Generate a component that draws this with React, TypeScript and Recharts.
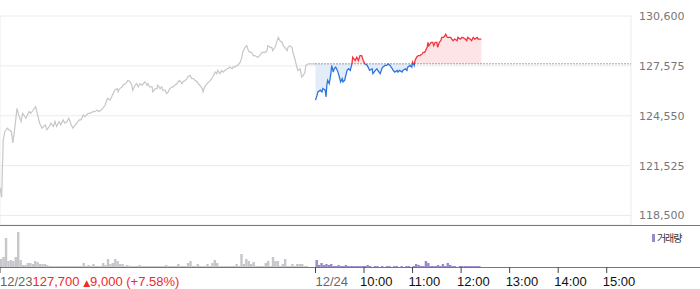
import { ComposedChart, Line, Area, Bar, Cell, XAxis, YAxis, CartesianGrid, ReferenceLine, Legend } from 'recharts';

// minutes since 12/23 09:00 (one session = 390 min), price in won
const day1Series: [number, number][] = [
  [0, 120200], [2, 119600], [4, 123100], [6, 123600], [9, 123800], [11, 123700], [14, 123600], [16, 122900],
  [19, 124100], [21, 125000], [23, 124600], [26, 124200], [28, 124700], [32, 124400], [36, 124800], [38, 124700],
  [41, 124900], [44, 125100], [47, 124500], [49, 124100], [52, 123800], [56, 124000], [58, 123700], [61, 123900],
  [63, 124100], [66, 123900], [68, 124200], [70, 123900], [73, 124200], [75, 124000], [78, 124300], [80, 124100],
  [83, 124200], [85, 124400], [88, 124000], [90, 123800], [93, 124000], [95, 124100], [98, 124300], [100, 124300],
  [103, 124600], [105, 124500], [109, 124700], [111, 124700], [115, 124800], [117, 124800], [120, 124900], [122, 124800],
  [125, 124900], [127, 125000], [130, 125200], [132, 125500], [133, 125600], [136, 125500], [138, 125700], [142, 126100],
  [145, 126200], [146, 126000], [148, 126200], [151, 126300], [152, 126400], [155, 126500], [157, 126600], [158, 126700],
  [161, 126600], [163, 126400], [164, 126100], [167, 126400], [169, 126500], [171, 126300], [173, 126500], [176, 126400],
  [177, 126500], [179, 126600], [182, 126400], [183, 126500], [185, 126300], [188, 126300], [189, 126000], [192, 126200],
  [194, 126200], [195, 126400], [198, 126200], [200, 126300], [201, 126100], [204, 126100], [206, 125900], [208, 126000],
  [210, 126200], [213, 126300], [214, 126300], [216, 126400], [219, 126500], [220, 126600], [222, 126700], [225, 126500],
  [226, 126600], [229, 126700], [231, 126800], [232, 126900], [235, 127000], [237, 126800], [239, 126800], [241, 126700],
  [244, 126600], [245, 126500], [247, 126400], [250, 126200], [251, 126000], [253, 126300], [256, 126500], [260, 126700],
  [263, 126900], [266, 127200], [268, 127100], [269, 127300], [272, 127100], [274, 127300], [276, 127200], [278, 127300],
  [281, 127400], [282, 127400], [284, 127500], [287, 127400], [288, 127500], [290, 127500], [293, 127600], [294, 127600],
  [297, 127800], [299, 128100], [300, 128400], [303, 128700], [305, 128800], [307, 128500], [309, 128400], [311, 128400],
  [313, 128200], [315, 128200], [318, 128100], [319, 128100], [321, 128200], [324, 128400], [325, 128400], [328, 128400],
  [330, 128500], [331, 128800], [334, 128700], [336, 128700], [337, 128500], [340, 128700], [342, 129000], [344, 129300],
  [346, 129100], [349, 129000], [350, 128800], [352, 128700], [355, 128500], [356, 128700], [358, 128800], [361, 128700],
  [362, 128400], [365, 127900], [367, 127500], [368, 127300], [371, 127400], [373, 126900], [375, 127000], [377, 127200],
  [378, 127600], [381, 127700], [390, 127700],
];

const day2Series: [number, number][] = [
  [390, 125500], [392, 125800], [393, 126000], [396, 126100], [398, 126000], [399, 126200], [402, 126100], [403, 125700],
  [404, 126400], [405, 126700], [407, 126500], [409, 127100], [410, 127600], [412, 127200], [413, 127400], [415, 127500],
  [417, 127300], [419, 127000], [421, 126600], [423, 126800], [424, 126600], [426, 126700], [428, 127100], [429, 127300],
  [431, 127400], [433, 127300], [434, 127500], [435, 127700], [436, 128100], [439, 127900], [441, 128100], [443, 127900],
  [445, 128200], [447, 128200], [449, 127900], [451, 127700], [454, 127600], [455, 127500], [457, 127300], [460, 127400],
  [461, 127100], [464, 127300], [466, 127400], [467, 127300], [470, 127100], [472, 127400], [473, 127500], [476, 127600],
  [478, 127600], [480, 127700], [482, 127600], [485, 127400], [486, 127300], [488, 127200], [491, 127300], [492, 127200],
  [494, 127300], [497, 127200], [498, 127300], [501, 127400], [503, 127300], [504, 127500], [507, 127600], [509, 127500],
  [510, 127800], [512, 127600], [513, 127900], [515, 128100], [517, 128200], [519, 128200], [522, 128300], [523, 128400],
  [525, 128400], [528, 128700], [529, 129000], [530, 128800], [533, 129000], [535, 129000], [536, 128800], [538, 129000],
  [540, 129000], [541, 128700], [543, 129000], [545, 129100], [546, 129300], [548, 129300], [550, 129400], [551, 129500],
  [553, 129300], [555, 129300], [557, 129300], [560, 129100], [562, 129200], [565, 129100], [566, 129300], [569, 129200],
  [571, 129300], [572, 129300], [575, 129200], [577, 129100], [578, 129300], [581, 129200], [583, 129100], [585, 129300],
  [587, 129200], [590, 129300], [591, 129200], [595, 129200],
];

// volume per 3-minute bucket (thousand shares)
const VOL_STEP = 3;
const day1Volume = [
  8, 10, 29, 6, 7, 6, 10, 35, 7, 2,
  2, 4, 4, 3, 6, 5, 3, 3, 3, 2,
  1, 1, 1, 1, 1, 1, 1, 1, 1, 1,
  1, 1, 1, 1, 4, 1, 2, 1, 3, 1,
  1, 1, 4, 2, 8, 3, 4, 8, 6, 3,
  3, 1, 2, 1, 1, 1, 1, 2, 1, 1,
  1, 1, 1, 1, 1, 1, 1, 1, 2, 1,
  1, 1, 1, 3, 1, 1, 1, 4, 6, 1,
  1, 3, 1, 1, 1, 3, 1, 4, 7, 4,
  1, 1, 1, 1, 1, 1, 1, 3, 1, 13,
  3, 8, 6, 3, 5, 1, 1, 1, 1, 4,
  6, 1, 10, 6, 6, 1, 3, 8, 1, 1,
  3, 1, 3, 3, 3, 1, 1, 0, 0, 0,
];
const day2Volume = [
  7, 2, 4, 2, 3, 2, 3, 1, 1, 2,
  1, 1, 2, 1, 1, 1, 1, 1, 1, 1,
  1, 2, 1, 0, 1, 1, 0, 1, 0, 1,
  1, 0, 1, 1, 0, 1, 0, 1, 1, 0,
  1, 3, 2, 1, 1, 6, 4, 1, 1, 1,
  2, 1, 3, 1, 4, 2, 1, 1, 0, 1,
  1, 1, 1, 1, 1, 1, 1, 1,
];

const SESSION = 390;
const PREV_CLOSE = 127700;
const CHANGE = 9000;
const CHANGE_PCT = 7.58;
const priceTicks = [118500, 121525, 124550, 127575, 130600];
const gridMinutes = [0, 60, 120, 180, 240, 300, 360, 390, 450, 510, 570, 630, 690, 750];
const axisMinutes = [0, 390, 450, 510, 570, 630, 690, 750];
const axisLabels = ['12/23', '12/24', '10:00', '11:00', '12:00', '13:00', '14:00', '15:00'];

const day1Data = day1Series.map(([m, p]) => ({ m, p }));
const day2Data = day2Series.map(([m, p]) => ({ m, p }));
const volumeData = [
  ...day1Volume.map((v, i) => ({ m: i * VOL_STEP + VOL_STEP / 2, v, day: 1 })),
  ...day2Volume.map((v, i) => ({ m: SESSION + i * VOL_STEP + VOL_STEP / 2, v, day: 2 })),
];

const day2Prices = day2Series.map(([, p]) => p);
const hi = Math.max(...day2Prices);
const lo = Math.min(...day2Prices);
const split = (hi - PREV_CLOSE) / (hi - lo);

const fmt = (n: number) => n.toLocaleString('en-US');

function TimeTick(props: any) {
  const { x, y, payload } = props;
  const idx = axisMinutes.indexOf(payload.value);
  const label = axisLabels[idx];
  const isDate = label.includes('/');
  if (idx === 0) {
    return (
      <text x={x} y={y} dy={11} fontSize={13} fontFamily="Liberation Sans, Arial" fill="#666" textAnchor="start">
        {label}
        <tspan fill="#ee2a2a">
          {fmt(PREV_CLOSE)} <tspan fontSize={9} fontFamily="DejaVu Sans">▲</tspan>
          {fmt(CHANGE)} (+{CHANGE_PCT.toFixed(2)}%)
        </tspan>
      </text>
    );
  }
  return (
    <text
      x={isDate ? x : x - 4}
      y={y}
      dy={11}
      fontSize={13}
      fontFamily="Liberation Sans, Arial"
      fill={isDate ? '#666' : '#111'}
      textAnchor="start"
    >
      {label}
    </text>
  );
}

function VolumeLegend() {
  return (
    <div style={{ display: 'flex', alignItems: 'center', fontFamily: 'Noto Sans CJK KR', fontSize: 10, color: '#333' }}>
      <span style={{ display: 'inline-block', width: 3, height: 8, background: '#9b88c9', marginRight: 2 }} />
      <span style={{ letterSpacing: -1.1, lineHeight: '10px' }}>거래량</span>
    </div>
  );
}

export default function App() {
  return (
    <div style={{ position: 'absolute', left: 0, top: 0, width: 700, height: 289, background: '#fff' }}>
      <div style={{ position: 'absolute', left: 0, top: 0 }}>
        <ComposedChart width={700} height={225} margin={{ top: 16, right: 0, left: 0, bottom: 0 }}>
          <defs>
            <linearGradient id="d2Stroke" x1="0" y1="0" x2="0" y2="1">
              <stop offset={split} stopColor="#f5323d" />
              <stop offset={split} stopColor="#2f74dc" />
            </linearGradient>
            <linearGradient id="d2Fill" x1="0" y1="0" x2="0" y2="1">
              <stop offset={split} stopColor="#fde4e6" />
              <stop offset={split} stopColor="#e3ecf9" />
            </linearGradient>
          </defs>
          <CartesianGrid stroke="#ebebeb" />
          <XAxis
            dataKey="m"
            type="number"
            domain={[0, SESSION * 2]}
            ticks={gridMinutes}
            allowDataOverflow
            tick={false}
            tickLine={false}
            axisLine={false}
            height={0}
          />
          <YAxis
            orientation="right"
            type="number"
            domain={[117925, 130600]}
            ticks={priceTicks}
            interval={0}
            width={69}
            tickSize={0}
            tickMargin={8}
            axisLine={false}
            tickLine={false}
            tickFormatter={fmt}
            tick={{ fill: '#777', fontSize: 11, fontFamily: 'DejaVu Sans' }}
          />
          <Line
            data={day1Data}
            dataKey="p"
            type="linear"
            stroke="#c6c6cb"
            strokeWidth={1.2}
            dot={false}
            activeDot={false}
            isAnimationActive={false}
          />
          <Area
            data={day2Data}
            dataKey="p"
            type="linear"
            baseValue={PREV_CLOSE}
            stroke="url(#d2Stroke)"
            strokeWidth={1.3}
            fill="url(#d2Fill)"
            fillOpacity={1}
            dot={false}
            activeDot={false}
            isAnimationActive={false}
          />
          <ReferenceLine
            segment={[{ x: SESSION, y: PREV_CLOSE }, { x: SESSION * 2, y: PREV_CLOSE }]}
            stroke="#444"
            strokeDasharray="1 2"
          />
        </ComposedChart>
      </div>
      <div style={{ position: 'absolute', left: 0, top: 225, width: 700, height: 1, background: '#777' }} />
      <div style={{ position: 'absolute', left: 0, top: 267, width: 700, height: 1, background: '#777' }} />
      <div style={{ position: 'absolute', left: 0, top: 228 }}>
        <ComposedChart width={700} height={61} data={volumeData} margin={{ top: 0, right: 69, left: 0, bottom: 0 }}>
          <XAxis
            dataKey="m"
            type="number"
            domain={[0, SESSION * 2]}
            ticks={axisMinutes}
            interval={0}
            height={22}
            axisLine={false}
            tickLine={{ stroke: '#444' }}
            tickSize={6}
            tick={<TimeTick />}
          />
          <YAxis hide domain={[0, 39]} />
          <Legend
            layout="vertical"
            align="center"
            verticalAlign="middle"
            wrapperStyle={{ left: 652, top: 5, width: 48 }}
            content={<VolumeLegend />}
          />
          <Bar dataKey="v" barSize={2.4} isAnimationActive={false}>
            {volumeData.map((d, i) => (
              <Cell key={`vol-${i}`} fill={d.day === 1 ? '#c6c6cb' : '#9b88c9'} />
            ))}
          </Bar>
        </ComposedChart>
      </div>
    </div>
  );
}
